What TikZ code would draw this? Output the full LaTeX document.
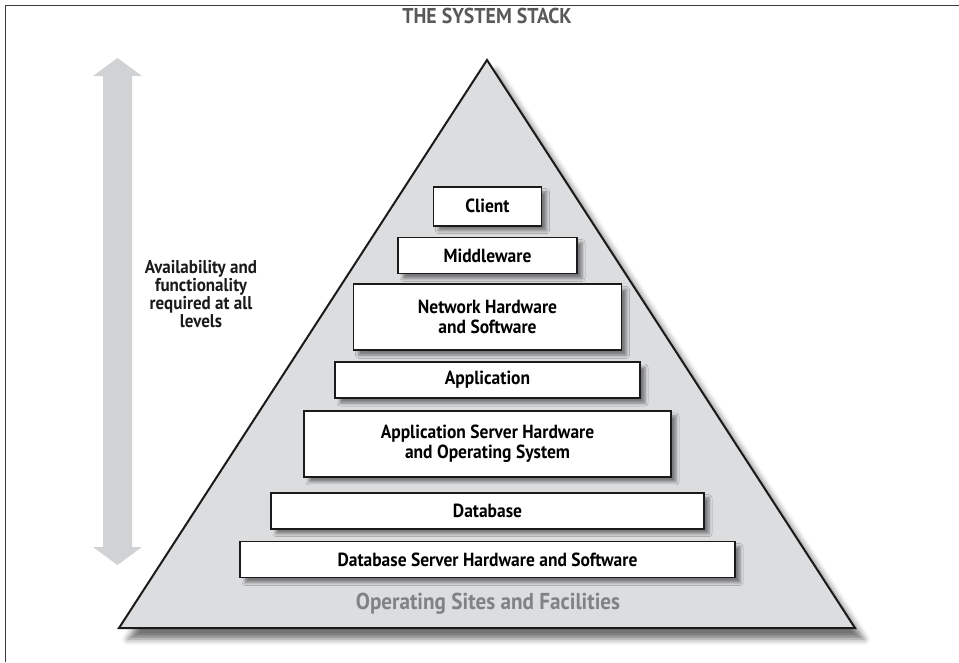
\documentclass[tikz,border=0pt]{standalone}
\usepackage{fontspec}
\setmainfont{PT Sans}[FakeStretch=0.92]
\usetikzlibrary{positioning,shadows.blur}
\definecolor{ink}{HTML}{1A1A1A}
\definecolor{frame}{HTML}{3A3A3A}
\definecolor{pyrfill}{HTML}{DCDDDF}
\definecolor{arrowgrey}{HTML}{D1D2D4}
\definecolor{titlegrey}{HTML}{58595B}
\definecolor{basegrey}{HTML}{808285}
\tikzset{
  %% nodes
  layer/.style    = {draw=ink, line width=1.8pt, fill=white, align=center,
                     inner sep=2pt, minimum height=36pt,
                     font=\fontsize{19}{20}\selectfont\bfseries,
                     blur shadow={shadow xshift=5pt, shadow yshift=-5pt,
                                  shadow blur radius=3pt, shadow opacity=45}},
  twoline/.style  = {minimum height=66pt},
  %% annotations
  title/.style    = {font=\fontsize{21.5}{21.5}\selectfont\bfseries, text=titlegrey},
  foundation/.style = {font=\fontsize{23}{23}\selectfont\bfseries, text=basegrey},
  note/.style     = {font=\fontsize{18.5}{16.6}\selectfont\bfseries, text=ink,
                     align=center},
}
\begin{document}
\begin{tikzpicture}[x=1pt, y=-1pt]
\useasboundingbox (0,0) rectangle (959,662);

%% frame (top and left only)
\draw[frame, line width=1.3pt] (959,5.5) -- (5.5,5.5) -- (5.5,662);

%% title
\node[title] (stack) at (487,16) {THE SYSTEM STACK};

%% pyramid
\coordinate (apex) at (487,60);
\coordinate (baseL) at (119,628);
\coordinate (baseR) at (855,628);
\fill[pyrfill, draw=ink, line width=2pt, line join=miter,
      blur shadow={shadow xshift=9pt, shadow yshift=-11pt,
                   shadow blur radius=6pt, shadow opacity=55}]
  (apex) -- (baseR) -- (baseL) -- cycle;

%% double arrow on the left
\fill[arrowgrey] (117.5,58) -- (142,76) -- (132,76) -- (132,547) -- (142,547)
  -- (117.5,565) -- (93,547) -- (103,547) -- (103,76) -- (93,76) -- cycle;
\node[note] (avail) at (201,294)
  {Availability and\\ functionality\\ required at all\\ levels};

%% layers, bottom up
\node[layer, minimum width=495pt] (dbserver) at (487.5,559.5)
  {Database Server Hardware and Software};
\node[layer, minimum width=433pt, above=11pt of dbserver] (database) {Database};
\node[layer, twoline, minimum width=367pt, above=14pt of database] (appserver)
  {Application Server Hardware\\ and Operating System};
\node[layer, minimum width=305pt, above=11pt of appserver] (application) {Application};
\node[layer, twoline, minimum width=268pt, above=10pt of application] (network)
  {Network Hardware\\ and Software};
\node[layer, minimum width=179pt, above=9pt of network] (middleware) {Middleware};
\node[layer, minimum width=108pt, minimum height=39pt, above=10pt of middleware] (client) {Client};

%% foundation
\node[foundation] (sites) at (488,604) {Operating Sites and Facilities};

\end{tikzpicture}
\end{document}
